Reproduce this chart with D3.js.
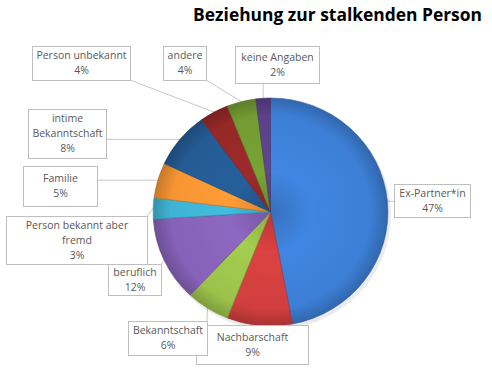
<!DOCTYPE html>
<html><head><meta charset="utf-8">
<script src="https://cdn.jsdelivr.net/npm/d3@7"></script>
<style>
html,body{margin:0;padding:0;background:#fff;}
svg{display:block;}
</style></head>
<body>
<svg id="chart" width="492" height="368"></svg>
<script>
// ---- data ----
const categories = ["Ex-Partner*in","Nachbarschaft","Bekanntschaft","beruflich","Person bekannt aber fremd","Familie","intime Bekanntschaft","Person unbekannt","andere","keine Angaben"];
const values = [47, 9, 6, 12, 3, 5, 8, 4, 4, 2];
const labelLines = [["Ex-Partner*in"],["Nachbarschaft"],["Bekanntschaft"],["beruflich"],["Person bekannt aber","fremd"],["Familie"],["intime","Bekanntschaft"],["Person unbekannt"],["andere"],["keine Angaben"]];
const title = "Beziehung zur stalkenden Person";

// ---- styles / layout ----
const colors = ["#3d7fd6","#d03f3e","#9cc24c","#8762b8","#3fb3d4","#f69533","#245b94","#962828","#729b31","#5b4189"];
const boxes = [ // x, y, w, h
  [394,184,76,33],[196,325,112,39],[128,321,79,34],[108,264,53,31],[6,216,141,48],
  [23,166,74,40],[28,109,78,49],[32,46,98,34],[163,46,43,34],[235,46,84,37]
];

const svg = d3.select("#chart");
const cx = 270.5, cy = 212, r = 114, sx = 1.03;

const defs = svg.append("defs");
colors.forEach((c,i)=>{
  const g = defs.append("radialGradient").attr("id","g"+i)
    .attr("gradientUnits","userSpaceOnUse").attr("cx",0).attr("cy",0).attr("r",r);
  const base = d3.color(c);
  g.append("stop").attr("offset","0%").attr("stop-color", base.darker(0.35));
  g.append("stop").attr("offset","35%").attr("stop-color", base.brighter(0.15));
  g.append("stop").attr("offset","85%").attr("stop-color", base);
  g.append("stop").attr("offset","100%").attr("stop-color", base.darker(0.6));
});

// title
const t = svg.append("text").text(title)
  .attr("font-family","'Open Sans', sans-serif").attr("font-weight","bold")
  .attr("font-size",18).attr("fill","#000").attr("text-anchor","end")
  .attr("x",482).attr("y",21);
const tw = t.node().getComputedTextLength();
t.attr("font-size", 18*289/tw);

const pie = d3.pie().sort(null).value(d=>d)(values);
const arc = d3.arc().innerRadius(0).outerRadius(r);

// leader lines
function anchor(d){
  const a = (d.startAngle+d.endAngle)/2;
  return [cx + sx*r*Math.sin(a), cy - r*Math.cos(a)];
}
const lines = svg.append("g");
pie.forEach((d,i)=>{
  const [ax,ay] = anchor(d);
  const [bx,by,bw,bh] = boxes[i];
  const px = Math.max(bx, Math.min(bx+bw, ax));
  const py = Math.max(by, Math.min(by+bh, ay));
  if (Math.hypot(ax-px, ay-py) > 3)
    lines.append("line").attr("x1",px).attr("y1",py).attr("x2",ax).attr("y2",ay)
      .attr("stroke","#c8c8c8").attr("stroke-width",1);
});

// pie
const pg = svg.append("g").attr("transform",`translate(${cx},${cy}) scale(${sx},1)`);
pg.append("ellipse").attr("cx",2).attr("cy",3).attr("rx",r+1).attr("ry",r+1)
  .attr("fill","#000").attr("opacity",0.08);
pg.selectAll("path.s").data(pie).join("path").attr("class","s")
  .attr("d",arc).attr("fill",(d,i)=>`url(#g${i})`)
  .attr("stroke",(d,i)=>d3.color(colors[i]).darker(0.8)).attr("stroke-width",0.6)
  .attr("stroke-linejoin","round");

// label boxes
const lg = svg.append("g");
pie.forEach((d,i)=>{
  const [bx,by,bw,bh] = boxes[i];
  lg.append("rect").attr("x",bx+0.5).attr("y",by+0.5).attr("width",bw).attr("height",bh)
    .attr("fill","#fff").attr("stroke","#bfbfbf").attr("stroke-width",1);
  const ls = labelLines[i].concat([values[i]+"%"]);
  const lh = 15;
  const y0 = by + bh/2 - (ls.length-1)*lh/2;
  ls.forEach((s,k)=>{
    lg.append("text").text(s).attr("x",bx+bw/2+0.5).attr("y",y0+k*lh)
      .attr("dy","0.36em").attr("text-anchor","middle")
      .attr("font-family","'Open Sans', sans-serif").attr("font-size",10.5)
      .attr("fill","#595959");
  });
});
</script>
</body></html>
